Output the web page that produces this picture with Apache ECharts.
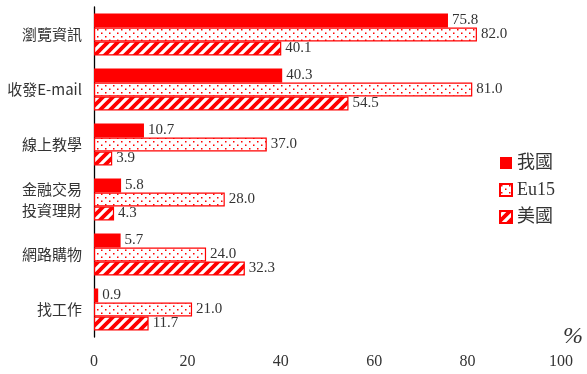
<!DOCTYPE html>
<html>
<head>
<meta charset="utf-8">
<script src="https://cdn.jsdelivr.net/npm/echarts@6/dist/echarts.min.js"></script>
<style>
  html, body { margin: 0; padding: 0; background: #fff; }
  #main { width: 587px; height: 374px; }
</style>
</head>
<body>
<div id="main"></div>
<script>
var categories = ['瀏覽資訊', '收發E-mail', '線上教學', '金融交易\n投資理財', '網路購物', '找工作'];
var seriesNames = ['我國', 'Eu15', '美國'];
var ours = [75.8, 40.3, 10.7, 5.8, 5.7, 0.9];
var eu15 = [82.0, 81.0, 37.0, 28.0, 24.0, 21.0];
var usa = [40.1, 54.5, 3.9, 4.3, 32.3, 11.7];
var xTicks = [0, 20, 40, 60, 80, 100];

var RED = '#ff0000';
var serif = '"Liberation Serif", "Noto Sans CJK TC", serif';
var cjk = '"Noto Sans CJK TC", "Liberation Serif", sans-serif';

// dotted pattern
function dotTile() {
  var c = document.createElement('canvas');
  c.width = 8; c.height = 7;
  var ctx = c.getContext('2d');
  ctx.fillStyle = '#fff';
  ctx.fillRect(0, 0, 8, 7);
  ctx.fillStyle = RED;
  ctx.fillRect(1, 1, 1.5, 1.5);
  ctx.fillRect(5, 4.5, 1.5, 1.5);
  return c;
}

// diagonal stripes "/"
function stripeTile() {
  var s = 10;
  var c = document.createElement('canvas');
  c.width = s; c.height = s;
  var ctx = c.getContext('2d');
  ctx.fillStyle = '#fff';
  ctx.fillRect(0, 0, s, s);
  ctx.strokeStyle = RED;
  ctx.lineWidth = 3.8;
  ctx.beginPath();
  ctx.moveTo(-s, s); ctx.lineTo(s, -s);
  ctx.moveTo(0, s); ctx.lineTo(s, 0);
  ctx.moveTo(0, s * 2); ctx.lineTo(s * 2, 0);
  ctx.stroke();
  return c;
}

var dotPattern = { image: dotTile(), repeat: 'repeat' };
var stripePattern = { image: stripeTile(), repeat: 'repeat' };

function fmt(p) { return p.value.toFixed(1); }

var labelStyle = {
  show: true,
  position: 'right',
  distance: 4,
  formatter: fmt,
  fontFamily: serif,
  fontSize: 15,
  color: '#333'
};

var chart = echarts.init(document.getElementById('main'), null, { renderer: 'canvas' });

var option = {
  backgroundColor: '#ffffff',
  animation: false,
  grid: { left: 94, right: 26, top: 7, bottom: 37 },
  legend: {
    orient: 'vertical',
    left: 494,
    top: 149,
    itemWidth: 12,
    itemHeight: 12,
    itemGap: 9,
    icon: 'rect',
    data: seriesNames,
    textStyle: { fontFamily: serif, fontSize: 18, color: '#333' }
  },
  xAxis: {
    type: 'value',
    min: 0,
    max: 100,
    interval: 20,
    name: '%',
    nameLocation: 'end',
    nameGap: 2,
    nameTextStyle: { fontFamily: serif, fontSize: 24, fontStyle: 'italic', color: '#333', padding: [0, 0, 0, 0], verticalAlign: 'middle' },
    axisLine: { lineStyle: { color: '#000', width: 1.3 } },
    axisTick: { inside: true, length: 5, lineStyle: { color: '#000' } },
    splitLine: { show: false },
    axisLabel: {
      margin: 17,
      fontFamily: serif,
      fontSize: 16,
      color: '#333',
      formatter: function (v) { return xTicks.indexOf(v) >= 0 ? String(v) : ''; }
    }
  },
  yAxis: {
    type: 'category',
    inverse: true,
    data: categories,
    axisLine: { lineStyle: { color: '#000', width: 1.3 } },
    axisTick: { inside: true, length: 5, lineStyle: { color: '#000' } },
    axisLabel: {
      margin: 12,
      fontFamily: cjk,
      fontSize: 15,
      lineHeight: 21,
      color: '#333'
    }
  },
  series: [
    {
      name: seriesNames[0],
      type: 'bar',
      data: ours,
      barWidth: 14,
      barGap: '0%',
      itemStyle: { color: RED },
      label: labelStyle
    },
    {
      name: seriesNames[1],
      type: 'bar',
      data: eu15,
      barWidth: 14,
      barGap: '0%',
      itemStyle: { color: dotPattern, borderColor: RED, borderWidth: 1.2 },
      label: labelStyle
    },
    {
      name: seriesNames[2],
      type: 'bar',
      data: usa,
      barWidth: 14,
      barGap: '0%',
      itemStyle: { color: stripePattern, borderColor: RED, borderWidth: 1.2 },
      label: labelStyle
    }
  ]
};

chart.setOption(option);
</script>
</body>
</html>
